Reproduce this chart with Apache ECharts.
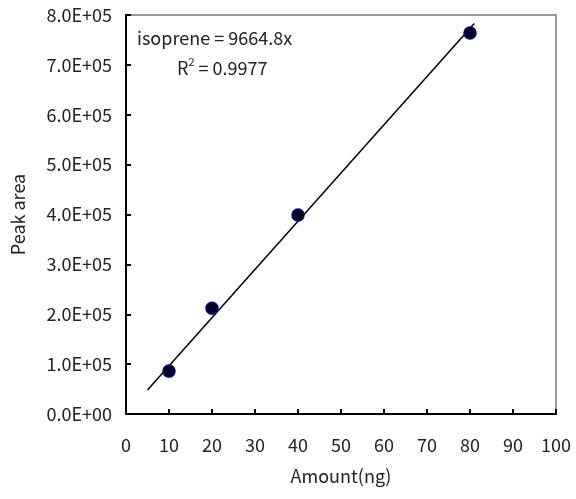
<!DOCTYPE html>
<html>
<head>
<meta charset="utf-8">
<script src="https://cdn.jsdelivr.net/npm/echarts@6/dist/echarts.min.js"></script>
<style>
  html, body { margin: 0; padding: 0; background: #fff; }
  #chart { width: 576px; height: 499px; }
</style>
</head>
<body>
<div id="chart"></div>
<script>
// 数据
var amounts = [10, 20, 40, 80];
var peakAreas = [86000, 212000, 399000, 764000];
var slope = 9664.8;
var fitRange = [5, 81];
var yTickLabels = ['0.0E+00', '1.0E+05', '2.0E+05', '3.0E+05', '4.0E+05',
                   '5.0E+05', '6.0E+05', '7.0E+05', '8.0E+05'];

var fontFamily = '"Noto Sans CJK KR", "Noto Sans", sans-serif';
var fontSize = 18;

var points = amounts.map(function(x, i) { return [x, peakAreas[i]]; });
var fitLine = fitRange.map(function(x) { return [x, slope * x]; });

var chart = echarts.init(document.getElementById('chart'));
var option = {
    backgroundColor: '#fff',
    animation: false,
    grid: { left: 126, right: 20, top: 15, bottom: 85, show: true, borderColor: '#999', borderWidth: 2 },
    xAxis: {
        type: 'value',
        min: 0, max: 100, interval: 10,
        name: 'Amount(ng)',
        nameLocation: 'middle',
        nameGap: 53,
        nameTextStyle: { fontSize: fontSize, color: '#222', fontFamily: fontFamily },
        axisLine: { show: true, onZero: false, lineStyle: { color: '#000', width: 2 } },
        axisTick: { show: true, inside: true, length: 5, lineStyle: { color: '#000', width: 2 } },
        axisLabel: { fontSize: fontSize, color: '#222', margin: 22, fontFamily: fontFamily },
        splitLine: { show: false }
    },
    yAxis: {
        type: 'value',
        min: 0, max: 800000, interval: 100000,
        name: 'Peak area',
        nameLocation: 'middle',
        nameGap: 99,
        nameRotate: 90,
        nameTextStyle: { fontSize: fontSize, color: '#222', fontFamily: fontFamily },
        axisLine: { show: true, onZero: false, lineStyle: { color: '#000', width: 2 } },
        axisTick: { show: true, inside: true, length: 5, lineStyle: { color: '#000', width: 2 } },
        axisLabel: {
            fontSize: fontSize, color: '#222', margin: 14, fontFamily: fontFamily,
            formatter: function(v) { return yTickLabels[Math.round(v / 100000)]; }
        },
        splitLine: { show: false }
    },
    graphic: [{
        type: 'text',
        left: 137, top: 29,
        style: {
            text: 'isoprene = 9664.8x',
            fontSize: fontSize, fill: '#222', fontFamily: fontFamily
        }
    }, {
        type: 'text',
        left: 177, top: 56,
        style: {
            text: '{a|R}{s|2}{a| = 0.9977}',
            fontFamily: fontFamily,
            rich: {
                a: { fontSize: fontSize, fill: '#222', fontFamily: fontFamily, verticalAlign: 'bottom' },
                s: { fontSize: 11, fill: '#222', fontFamily: fontFamily, verticalAlign: 'top', padding: [0, 0, 10, 0] }
            }
        }
    }],
    series: [{
        type: 'line',
        data: fitLine,
        showSymbol: false,
        symbol: 'none',
        lineStyle: { color: '#000', width: 1.5 },
        z: 2
    }, {
        type: 'scatter',
        data: points,
        symbol: 'circle',
        symbolSize: 12,
        itemStyle: { color: '#00001a', borderColor: '#000080', borderWidth: 1.5, opacity: 1 },
        z: 3
    }]
};
chart.setOption(option);
</script>
</body>
</html>
